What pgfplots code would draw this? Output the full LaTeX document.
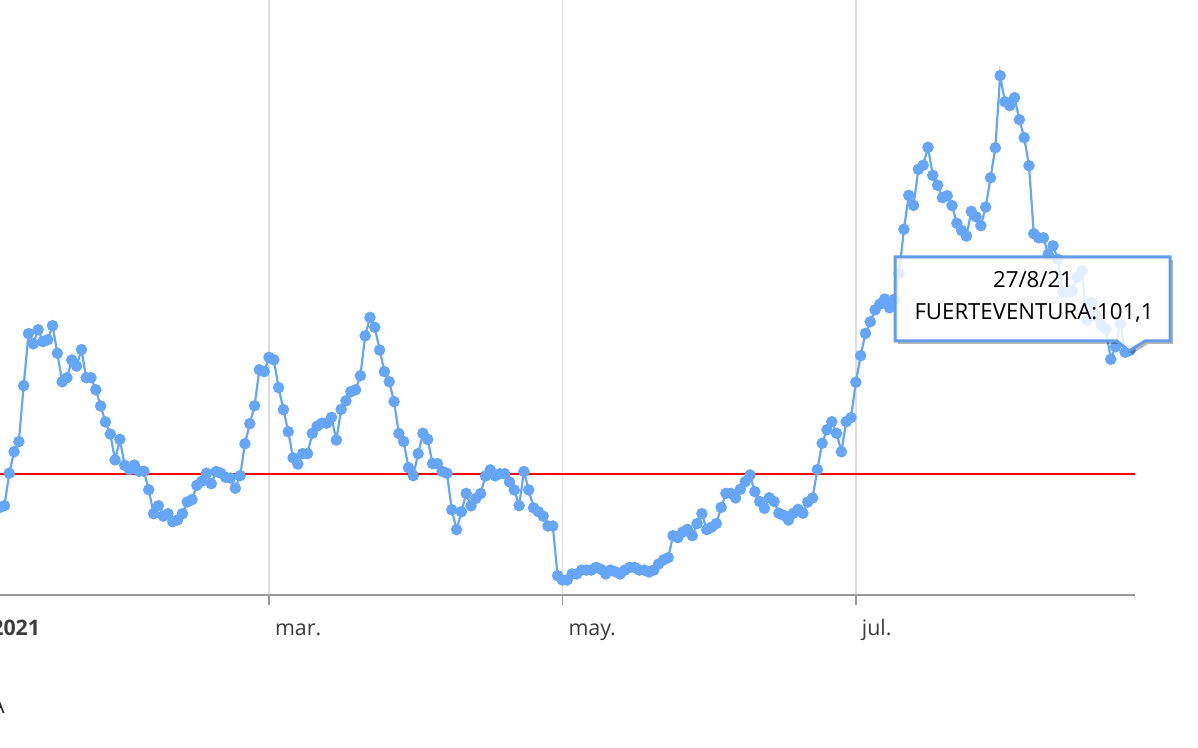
\documentclass[border=0pt]{standalone}
\usepackage{pgfplots}
\pgfplotsset{compat=1.18}
\usepackage{fontspec}
\setmainfont{Open Sans}
\definecolor{lineblue}{RGB}{102,166,250}
\definecolor{gridgray}{RGB}{222,222,222}
\definecolor{axisgray}{RGB}{153,153,153}
\definecolor{labelgray}{RGB}{60,60,60}
\definecolor{tipblue}{RGB}{98,158,232}
\begin{document}
\begin{tikzpicture}
\useasboundingbox (21.83pt,-76.5pt) rectangle (620.83pt,297.5pt);
\clip (21.83pt,-76.5pt) rectangle (620.83pt,297.5pt);
\begin{axis}[
  at={(0pt,0pt)}, anchor=south west,
  x=2.405pt, y=1.21pt,
  xmin=-6, xmax=239, ymin=0, ymax=250,
  axis x line*=bottom, axis y line=none,
  x axis line style={-, axisgray, line width=1pt},
  xtick={0,59,120,181},
  xticklabels={\textbf{2021},mar.,may.,jul.},
  xticklabel style={anchor=base west, inner sep=0pt, xshift=2.85pt, yshift=-15.2pt,
    font=\fontsize{10.7}{12}\selectfont, text=labelgray},
  major tick length=5pt, tick align=outside,
  xtick style={axisgray, line width=0.75pt},
  ytick={50,100,150,200}, yticklabels={},
  ytick style={draw=none},
  xmajorgrids, ymajorgrids,
  grid style={gridgray, line width=0.75pt},
]
\addplot[red, line width=1pt, forget plot] coordinates {(-6,50) (239,50)};
\addplot[lineblue, line width=1.1pt, mark=*, mark size=2.3pt,
  mark options={fill=lineblue, draw=none}] coordinates {
(2,36.0) (3,36.2) (4,36.9) (5,50.3) (6,59.2) (7,63.4) (8,86.5) (9,108.0) (10,103.8) (11,109.6)
(12,104.7) (13,105.5) (14,111.3) (15,99.9) (16,88.1) (17,89.8) (18,97.1) (19,94.6) (20,101.4) (21,89.8)
(22,89.8) (23,84.8) (24,78.1) (25,71.5) (26,66.5) (27,55.8) (28,64.3) (29,53.6) (30,51.8) (31,53.7)
(32,51.1) (33,51.1) (34,43.5) (35,33.6) (36,36.9) (37,32.6) (38,33.6) (39,30.3) (40,31.0) (41,33.6)
(42,38.4) (43,39.4) (44,45.3) (45,47.0) (46,50.3) (47,46.0) (48,51.0) (49,50.3) (50,48.6) (51,48.3)
(52,44.1) (53,49.3) (54,62.5) (55,70.8) (56,78.2) (57,93.1) (58,92.3) (59,98.2) (60,97.2) (61,85.7)
(62,76.6) (63,67.5) (64,56.7) (65,54.1) (66,58.4) (67,58.4) (68,66.8) (69,69.8) (70,71.0) (71,71.0)
(72,73.4) (73,64.0) (74,76.7) (75,80.2) (76,84.0) (77,84.8) (78,90.6) (79,107.1) (80,114.7) (81,110.6)
(82,101.2) (83,92.3) (84,88.1) (85,79.9) (86,66.7) (87,63.4) (88,52.6) (89,49.3) (90,58.4) (91,66.8)
(92,64.3) (93,54.3) (94,54.3) (95,51.1) (96,50.3) (97,35.2) (98,27.0) (99,34.4) (100,42.0) (101,36.8)
(102,39.9) (103,41.9) (104,49.2) (105,51.7) (106,49.2) (107,50.1) (108,50.1) (109,46.7) (110,43.4) (111,36.9)
(112,51.0) (113,43.4) (114,36.0) (115,34.4) (116,32.6) (117,28.5) (118,28.5) (119,8.0) (120,6.2) (121,6.2)
(122,8.7) (123,8.7) (124,10.3) (125,10.3) (126,10.3) (127,11.4) (128,10.6) (129,8.7) (130,10.3) (131,9.6)
(132,8.7) (133,10.3) (134,11.4) (135,11.4) (136,10.3) (137,10.3) (138,9.5) (139,10.3) (140,12.8) (141,14.5)
(142,15.4) (143,24.5) (144,23.7) (145,26.0) (146,27.1) (147,24.5) (148,29.5) (149,33.6) (150,27.0) (151,28.0)
(152,29.5) (153,36.2) (154,42.0) (155,42.0) (156,40.1) (157,43.7) (158,46.8) (159,49.6) (160,42.7) (161,38.6)
(162,35.8) (163,40.2) (164,38.6) (165,33.8) (166,32.9) (167,31.0) (168,33.8) (169,35.4) (170,33.8) (171,38.4)
(172,40.1) (173,51.8) (174,62.7) (175,68.3) (176,71.6) (177,66.8) (178,59.2) (179,71.6) (180,73.3) (181,87.9)
(182,98.9) (183,108.1) (184,112.9) (185,117.8) (186,120.2) (187,122.3) (188,118.7) (189,122.2) (190,132.9) (191,151.1)
(192,165.1) (193,161.0) (194,175.9) (195,177.6) (196,185.0) (197,173.4) (198,169.3) (199,164.2) (200,165.0) (201,160.9)
(202,153.6) (203,150.6) (204,148.3) (205,158.5) (206,156.3) (207,152.6) (208,160.3) (209,172.4) (210,184.8) (211,214.6)
(212,203.8) (213,202.2) (214,205.5) (215,196.4) (216,189.0) (217,177.4) (218,149.3) (219,147.6) (220,147.6) (221,140.8)
(222,144.3) (223,138.7) (224,125.1) (225,125.1) (226,125.6) (227,131.3) (228,133.9) (229,113.6) (230,120.8) (231,115.3)
(232,111.6) (233,109.8) (234,97.4) (235,102.6) (236,112.0) (237,100.3) (238,101.1)
};
\end{axis}
\begin{scope}[shift={(21.83pt,297.5pt)}, x=0.5pt, y=-0.5pt]
  % tooltip shadow (only the part outside the box)
  \fill[black, opacity=0.28, even odd rule]
    (898,260) -- (1173,260) -- (1173,344) -- (1148,344) -- (1132,354) -- (1120,344) -- (898,344) -- cycle
    (895,257) -- (1170,257) -- (1170,341) -- (1145,341) -- (1129,351) -- (1117,341) -- (895,341) -- cycle;
  % tooltip box
  \fill[white, opacity=0.82]
    (895,257) -- (1170,257) -- (1170,341) -- (1145,341) -- (1129,351) -- (1117,341) -- (895,341) -- cycle;
  \draw[tipblue, line width=1.5pt, line join=miter]
    (895,257) -- (1170,257) -- (1170,341) -- (1145,341) -- (1129,351) -- (1117,341) -- (895,341) -- cycle;
  \node[anchor=base, inner sep=0pt, font=\fontsize{11.1}{13}\selectfont, text=black] at (1033,288) {27/8/21};
  \node[anchor=base, inner sep=0pt, font=\fontsize{11.1}{13}\selectfont, text=black] at (1034,320) {FUERTEVENTURA:101,1};
  % cut-off legend text
  \node[anchor=base east, inner sep=0pt, font=\fontsize{10.7}{12}\selectfont, text=black!85] at (5,714) {A};
\end{scope}
\end{tikzpicture}
\end{document}
